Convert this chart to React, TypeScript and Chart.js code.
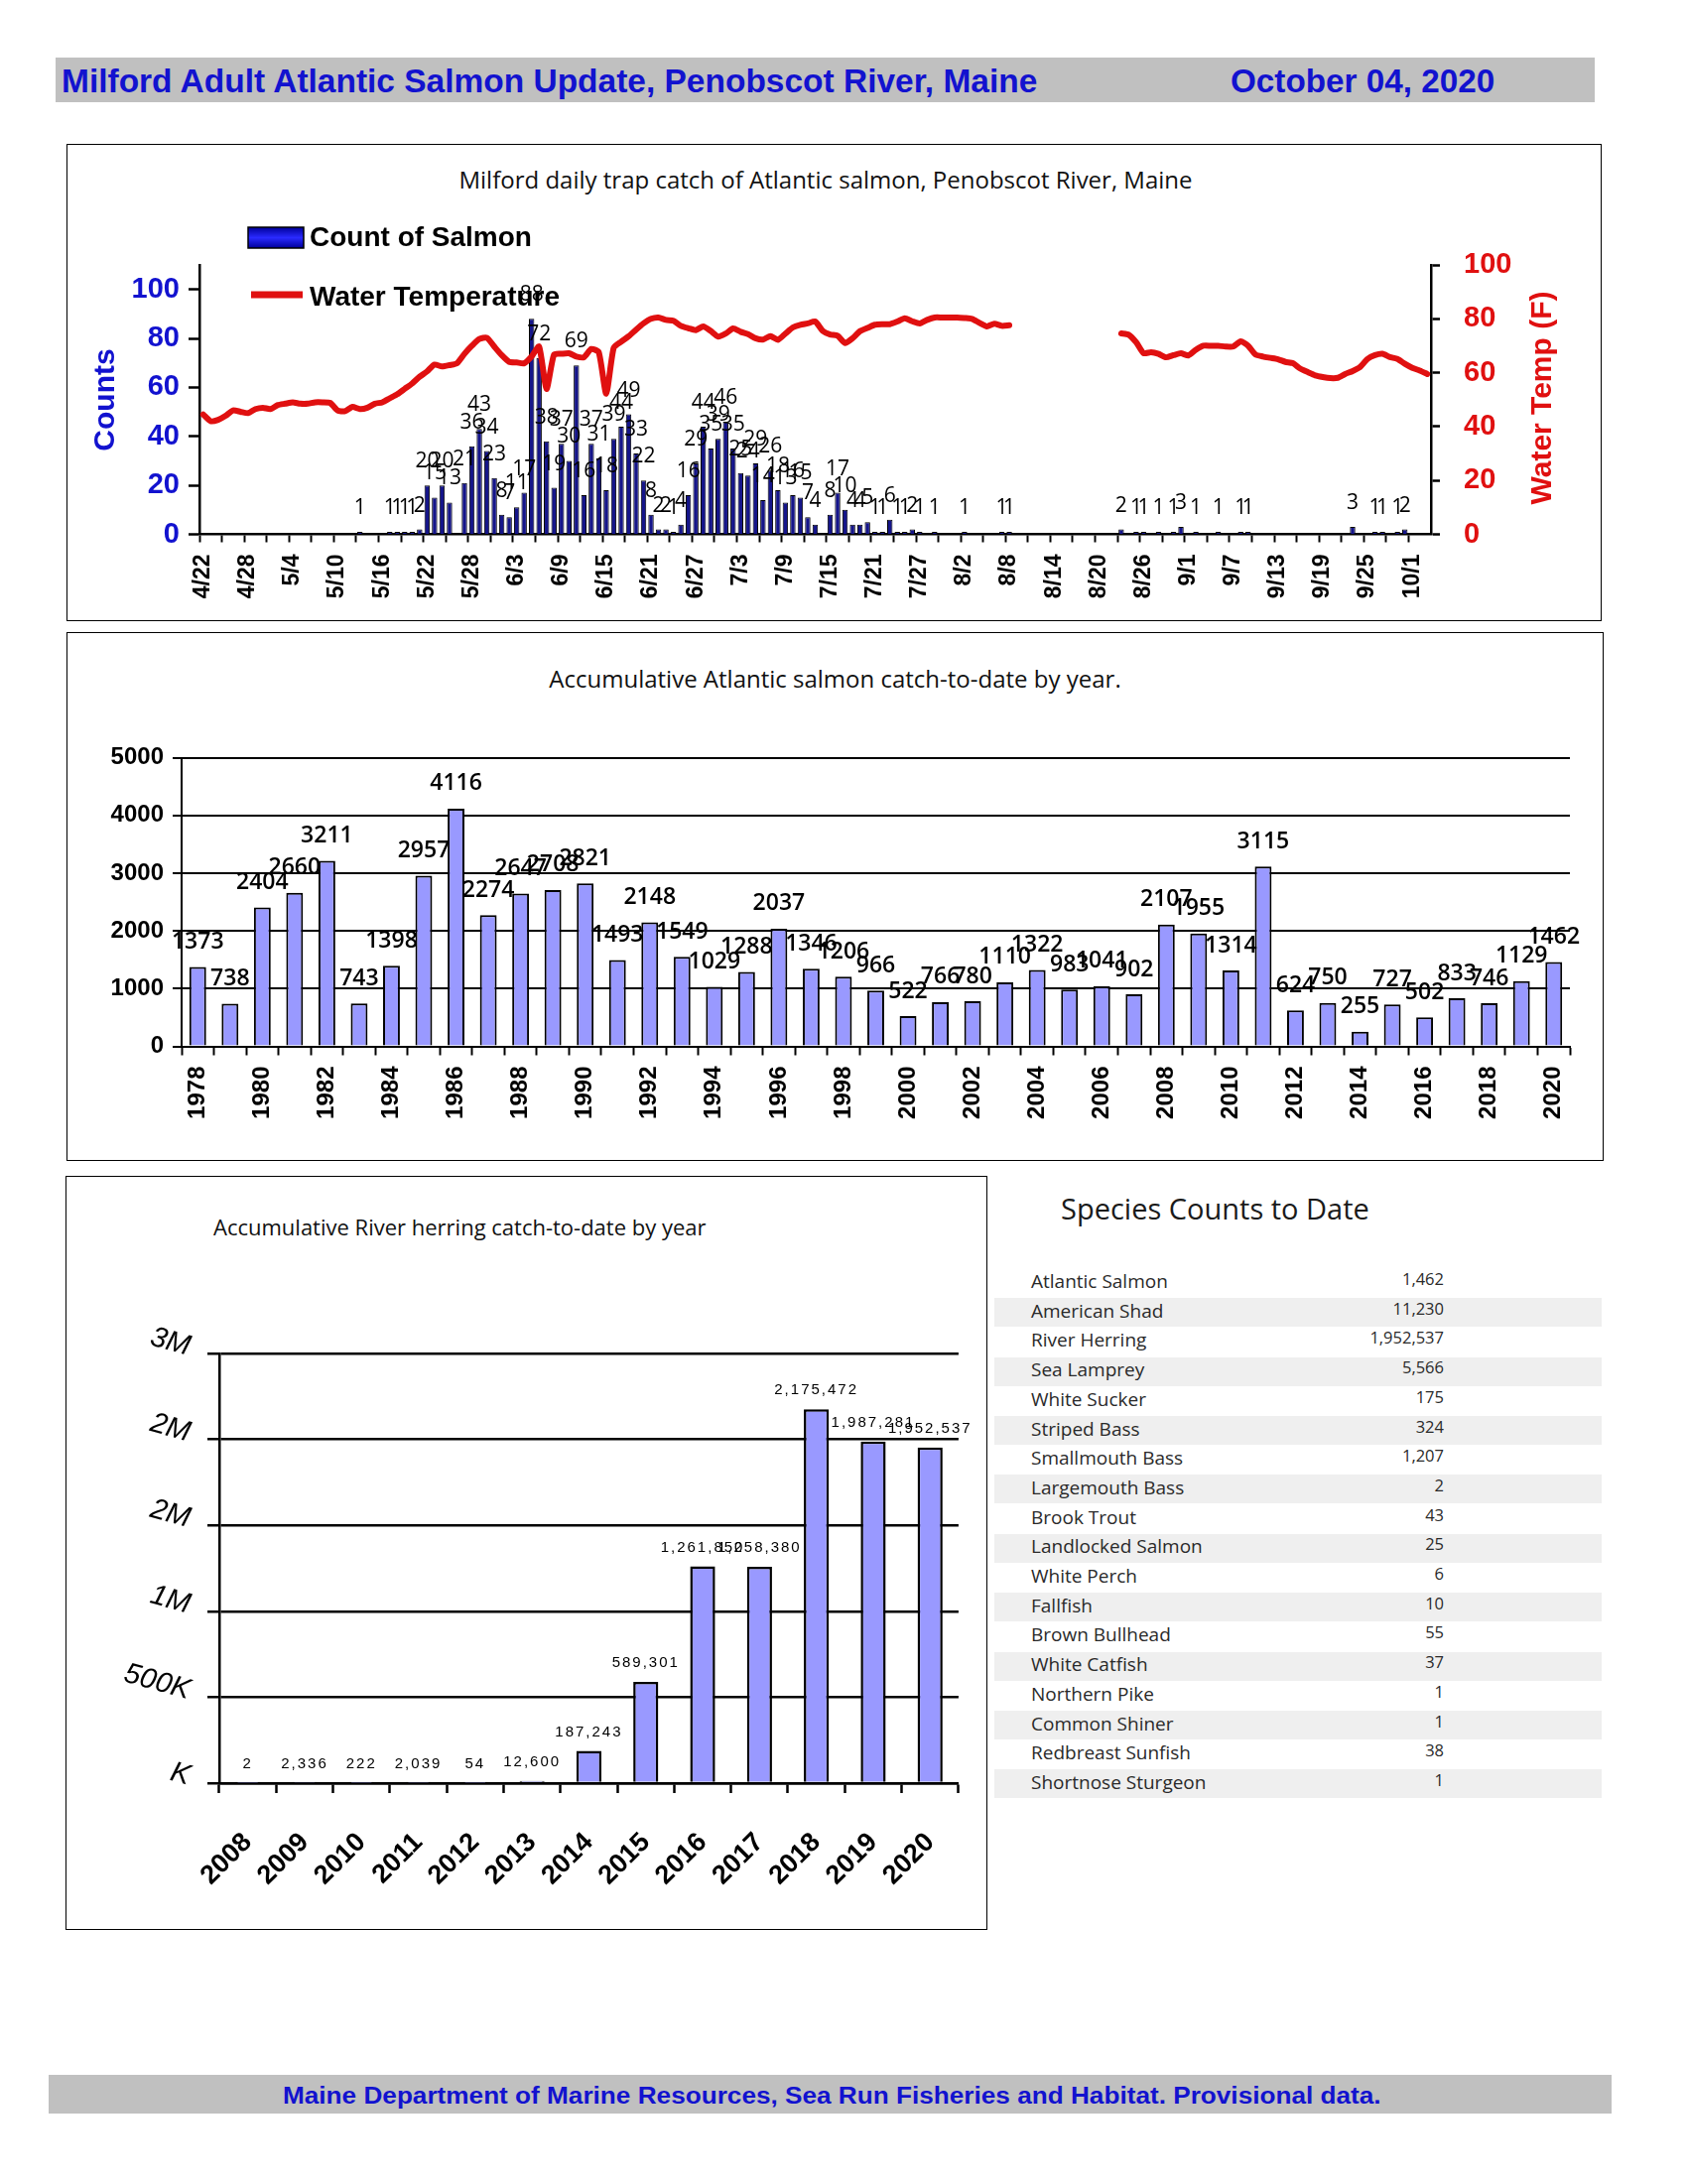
import React, { useEffect, useLayoutEffect, useRef, useState } from 'react';
import { Chart, registerables } from 'chart.js';

Chart.register(...registerables);

// ---------------- DATA ----------------
const seasonStart = { year: 2020, month: 4, day: 22 };
const seasonDays = 165;
const dayLabels: string[] = Array.from({ length: seasonDays }, (_, i) => {
  const d = new Date(seasonStart.year, seasonStart.month - 1, seasonStart.day + i);
  return `${d.getMonth() + 1}/${d.getDate()}`;
});

const dailyCounts: number[] = [
  0, 0, 0, 0, 0, 0, 0, 0, 0, 0,
  0, 0, 0, 0, 0, 0, 0, 0, 0, 0,
  0, 1, 0, 0, 0, 1, 1, 1, 1, 2,
  20, 15, 20, 13, 0, 21, 36, 43, 34, 23,
  8, 7, 11, 17, 88, 72, 38, 19, 37, 30,
  69, 16, 37, 31, 18, 39, 44, 49, 33, 22,
  8, 2, 2, 1, 4, 16, 29, 44, 35, 39,
  46, 35, 25, 24, 29, 14, 26, 18, 13, 16,
  15, 7, 4, 0, 8, 17, 10, 4, 4, 5,
  1, 1, 6, 1, 1, 2, 1, 0, 1, 0,
  0, 0, 1, 0, 0, 0, 0, 1, 1, 0,
  0, 0, 0, 0, 0, 0, 0, 0, 0, 0,
  0, 0, 0, 2, 0, 1, 1, 0, 1, 0,
  1, 3, 0, 1, 0, 0, 1, 0, 0, 1,
  1, 0, 0, 0, 0, 0, 0, 0, 0, 0,
  0, 0, 0, 0, 3, 0, 0, 1, 1, 0,
  1, 2, 0, 0, 0,
];

const dailyTempF: (number | null)[] = [
  44.5, 42, 42.5, 44, 46, 45.5, 45, 46.5, 47, 46.5,
  48, 48.5, 49, 48.5, 48.5, 49, 49, 48.8, 46, 45.7,
  47.3, 46.5, 47, 48.5, 49, 50.5, 52, 54, 56, 58.5,
  60.5, 63, 62.3, 62.8, 63.5, 67, 70, 72.5, 73, 69.7,
  66.5, 64, 63.8, 63.5, 66, 69.7, 54, 66.7, 67, 67.2,
  66, 65.7, 68.8, 67.6, 52.2, 69.2, 71.5, 73.5, 76, 78.3,
  80, 80.5, 79.6, 79.3, 77.4, 76.5, 75.8, 77.2, 75.5, 73.4,
  74.5, 76.4, 75.2, 74.3, 72.8, 72.3, 73.6, 72.2, 74.5, 76.8,
  77.8, 78.3, 79, 75.5, 74.2, 73.7, 71, 72.8, 75.4, 76.6,
  77.8, 78, 78, 79, 80.2, 79.1, 78.3, 79.6, 80.5, 80.5,
  80.5, 80.5, 80.3, 80, 78.5, 77.2, 78.2, 77.4, 77.6, null,
  null, null, null, null, null, null, null, null, null, null,
  null, null, null, 74.6, 74.1, 71.3, 67.2, 67.6, 67, 65.7,
  66.5, 67.2, 66.4, 68.5, 70, 70, 70, 69.7, 69.7, 71.6,
  70, 66.7, 66, 65.5, 65, 64, 63.5, 61.5, 60.2, 59,
  58.4, 58, 58.1, 59.5, 60.6, 62.1, 65.1, 66.5, 67, 65.8,
  65.1, 63.3, 61.8, 60.8, 59.5,
];

const salmonYears: string[] = [
  '1978', '1979', '1980', '1981', '1982', '1983', '1984', '1985', '1986', '1987',
  '1988', '1989', '1990', '1991', '1992', '1993', '1994', '1995', '1996', '1997',
  '1998', '1999', '2000', '2001', '2002', '2003', '2004', '2005', '2006', '2007',
  '2008', '2009', '2010', '2011', '2012', '2013', '2014', '2015', '2016', '2017',
  '2018', '2019', '2020',
];
const salmonTotals: number[] = [
  1373, 738, 2404, 2660, 3211, 743, 1398, 2957, 4116, 2274,
  2647, 2708, 2821, 1493, 2148, 1549, 1029, 1288, 2037, 1346,
  1206, 966, 522, 766, 780, 1110, 1322, 983, 1041, 902,
  2107, 1955, 1314, 3115, 624, 750, 255, 727, 502, 833,
  746, 1129, 1462,
];

const herringYears: string[] = ['2008', '2009', '2010', '2011', '2012', '2013', '2014', '2015', '2016', '2017', '2018', '2019', '2020'];
const herringTotals: number[] = [2, 2336, 222, 2039, 54, 12600, 187243, 589301, 1261850, 1258380, 2175472, 1987281, 1952537];
const herringTickValues: number[] = [0, 500000, 1000000, 1500000, 2000000, 2500000];
const herringTickLabels: string[] = ['K', '500K', '1M', '2M', '2M', '3M'];

const speciesNames: string[] = [
  'Atlantic Salmon', 'American Shad', 'River Herring', 'Sea Lamprey', 'White Sucker', 'Striped Bass',
  'Smallmouth Bass', 'Largemouth Bass', 'Brook Trout', 'Landlocked Salmon', 'White Perch', 'Fallfish',
  'Brown Bullhead', 'White Catfish', 'Northern Pike', 'Common Shiner', 'Redbreast Sunfish', 'Shortnose Sturgeon',
];
const speciesCounts: string[] = [
  '1,462', '11,230', '1,952,537', '5,566', '175', '324', '1,207', '2', '43', '25', '6', '10', '55', '37', '1', '1', '38', '1',
];

// ---------------- STYLE ----------------
const ARIAL = "'Liberation Sans', Arial, sans-serif";
const CAL = "'Open Sans', 'Noto Sans', sans-serif";
const BLUE = '#1212cf';
const RED = '#e01010';

function FitText({ text, width, style }: { text: string; width: number; style: React.CSSProperties }) {
  const ref = useRef<HTMLSpanElement>(null);
  const [sx, setSx] = useState(1);
  useLayoutEffect(() => {
    const el = ref.current;
    if (el && el.offsetWidth > 0) setSx(width / el.offsetWidth);
  }, [text, width]);
  return (
    <span
      ref={ref}
      style={{ ...style, display: 'inline-block', whiteSpace: 'nowrap', transform: `scaleX(${sx})`, transformOrigin: 'left center' }}
    >
      {text}
    </span>
  );
}

function useChart(ref: React.RefObject<HTMLCanvasElement>, make: () => any) {
  useEffect(() => {
    if (!ref.current) return;
    const c = new Chart(ref.current, make());
    return () => c.destroy();
  }, []);
}

function labelPlugin(id: string, dsIndex: number, offset: number, font: string, fmt: (v: number) => string, spacing?: string) {
  return {
    id,
    afterDatasetsDraw(chart: any) {
      const meta = chart.getDatasetMeta(dsIndex);
      const data = chart.data.datasets[dsIndex].data;
      const ctx = chart.ctx;
      ctx.save();
      ctx.font = font;
      ctx.fillStyle = '#000';
      ctx.textAlign = 'center';
      ctx.textBaseline = 'middle';
      if (spacing) (ctx as any).letterSpacing = spacing;
      meta.data.forEach((el: any, i: number) => {
        const v = data[i];
        if (v == null || v === 0) return;
        ctx.fillText(fmt(v), el.x, el.y - offset);
      });
      ctx.restore();
    },
  };
}

function DailyChart() {
  const ref = useRef<HTMLCanvasElement>(null);
  useChart(ref, () => ({
    type: 'bar',
    data: {
      labels: dayLabels,
      datasets: [
        {
          type: 'line', label: 'Water Temperature', data: dailyTempF, yAxisID: 'y1',
          borderColor: RED, borderWidth: 6, pointRadius: 0, tension: 0.2, spanGaps: false,
          borderJoinStyle: 'round', borderCapStyle: 'round', order: 0,
        },
        {
          type: 'bar', label: 'Count of Salmon', data: dailyCounts, yAxisID: 'y',
          backgroundColor: '#15158a', borderColor: '#000', borderWidth: 1,
          barPercentage: 0.72, categoryPercentage: 1, order: 1,
        },
      ],
    },
    options: {
      responsive: false, animation: false,
      layout: { padding: { top: 122, left: 0, right: 0, bottom: 0 } },
      plugins: { legend: { display: false }, tooltip: { enabled: false } },
      scales: {
        x: {
          offset: true,
          grid: {
            offset: true, drawOnChartArea: false, tickLength: 8, tickWidth: 2,
            tickColor: (c: any) => (c.index % 3 === 0 ? '#000' : 'rgba(0,0,0,0)'),
          },
          border: { color: '#000', width: 2.5 },
          ticks: {
            autoSkip: false, minRotation: 90, maxRotation: 90, padding: 12, color: '#000',
            font: { family: ARIAL, weight: 'bold', size: 23 },
            callback: (_v: any, i: number) => (i % 6 === 0 ? dayLabels[i] : ''),
          },
          afterFit: (s: any) => { s.height = 87.5; },
        },
        y: {
          position: 'left', min: 0, max: 110,
          ticks: { stepSize: 20, includeBounds: false, color: BLUE, padding: 9, font: { family: ARIAL, weight: 'bold', size: 29 } },
          afterBuildTicks: (s: any) => { s.ticks = s.ticks.filter((t: any) => t.value <= 100); },
          grid: { drawOnChartArea: false, tickLength: 11, tickWidth: 2.5, tickColor: '#000' },
          border: { color: '#000', width: 2.5 },
          afterFit: (s: any) => { s.width = 134; },
        },
        y1: {
          position: 'right', min: 0, max: 100,
          ticks: { stepSize: 20, color: RED, padding: 24, font: { family: ARIAL, weight: 'bold', size: 29 } },
          grid: { drawOnChartArea: false, tickLength: 9, tickWidth: 2.5, tickColor: '#000' },
          border: { color: '#000', width: 2.5 },
          afterFit: (s: any) => { s.width = 172; },
        },
      },
    },
    plugins: [
      {
        id: 'legendAndTitles',
        beforeDatasetsDraw(chart: any) {
          const ctx = chart.ctx;
          ctx.save();
          const g = ctx.createLinearGradient(0, 84, 0, 105);
          g.addColorStop(0, '#00009a');
          g.addColorStop(0.5, '#2a2aff');
          g.addColorStop(1, '#00009a');
          ctx.fillStyle = g;
          ctx.fillRect(183, 84, 56, 21);
          ctx.strokeStyle = '#000';
          ctx.lineWidth = 1.5;
          ctx.strokeRect(183, 84, 56, 21);
          ctx.strokeStyle = RED;
          ctx.lineWidth = 7;
          ctx.beginPath();
          ctx.moveTo(186, 152);
          ctx.lineTo(238, 152);
          ctx.stroke();
          ctx.fillStyle = '#000';
          ctx.font = `bold 28px ${ARIAL}`;
          ctx.textBaseline = 'middle';
          ctx.textAlign = 'left';
          ctx.fillText('Count of Salmon', 245, 95);
          ctx.fillText('Water Temperature', 245, 155);
          ctx.font = `bold 30px ${ARIAL}`;
          ctx.textAlign = 'center';
          ctx.fillStyle = BLUE;
          ctx.translate(40, 258);
          ctx.rotate(-Math.PI / 2);
          ctx.fillText('Counts', 0, 0);
          ctx.restore();
          ctx.save();
          ctx.font = `bold 30px ${ARIAL}`;
          ctx.textAlign = 'center';
          ctx.textBaseline = 'middle';
          ctx.fillStyle = RED;
          ctx.translate(1488, 256);
          ctx.rotate(-Math.PI / 2);
          ctx.fillText('Water Temp (F)', 0, 0);
          ctx.restore();
        },
      },
      labelPlugin('dailyLabels', 1, 24, `21px ${CAL}`, (v) => String(v)),
    ],
  }));
  return <canvas ref={ref} width={1547} height={481} style={{ position: 'absolute', left: 67, top: 145, width: 1547, height: 481 }} />;
}

function SalmonYearChart() {
  const ref = useRef<HTMLCanvasElement>(null);
  useChart(ref, () => ({
    type: 'bar',
    data: {
      labels: salmonYears,
      datasets: [{
        data: salmonTotals, backgroundColor: '#9999ff', borderColor: '#000', borderWidth: 2,
        barPercentage: 0.52, categoryPercentage: 1,
      }],
    },
    options: {
      responsive: false, animation: false,
      layout: { padding: { top: 126.5, left: 0, right: 34, bottom: 0 } },
      plugins: { legend: { display: false }, tooltip: { enabled: false } },
      scales: {
        x: {
          offset: true,
          grid: { offset: true, drawOnChartArea: false, tickLength: 9, tickWidth: 2, tickColor: '#000' },
          border: { color: '#000', width: 2 },
          ticks: {
            autoSkip: false, minRotation: 90, maxRotation: 90, padding: 11, color: '#000',
            font: { family: ARIAL, weight: 'bold', size: 24 },
            callback: (_v: any, i: number) => (i % 2 === 0 ? salmonYears[i] : ''),
          },
          afterFit: (s: any) => { s.height = 115.5; },
        },
        y: {
          min: 0, max: 5000,
          ticks: {
            stepSize: 1000, color: '#000', padding: 9, font: { family: ARIAL, weight: 'bold', size: 24 },
            callback: (v: any) => String(v),
          },
          grid: { color: '#000', lineWidth: 2, tickLength: 9, tickColor: '#000' },
          border: { color: '#000', width: 2 },
          afterFit: (s: any) => { s.width = 116; },
        },
      },
    },
    plugins: [labelPlugin('salmonLabels', 0, 25, `600 23px ${CAL}`, (v) => String(v))],
  }));
  return <canvas ref={ref} width={1549} height={533} style={{ position: 'absolute', left: 67, top: 637, width: 1549, height: 533 }} />;
}

function HerringChart() {
  const ref = useRef<HTMLCanvasElement>(null);
  useChart(ref, () => ({
    type: 'bar',
    data: {
      labels: herringYears,
      datasets: [{
        data: herringTotals, backgroundColor: '#9999ff', borderColor: '#000', borderWidth: 2.5,
        barPercentage: 0.44, categoryPercentage: 1,
      }],
    },
    options: {
      responsive: false, animation: false,
      layout: { padding: { top: 179, left: 0, right: 22, bottom: 0 } },
      plugins: { legend: { display: false }, tooltip: { enabled: false } },
      scales: {
        x: {
          offset: true,
          grid: { offset: true, drawOnChartArea: false, tickLength: 10, tickWidth: 2.5, tickColor: '#000' },
          border: { color: '#000', width: 2.5 },
          ticks: {
            autoSkip: false, minRotation: 45, maxRotation: 45, padding: 34, color: '#000',
            font: { family: ARIAL, weight: 'bold', size: 27 },
          },
          afterFit: (s: any) => { s.height = 148; },
        },
        y: {
          min: 0, max: 2500000,
          ticks: { stepSize: 500000, display: false },
          grid: { color: '#000', lineWidth: 2.5, tickLength: 12, tickColor: '#000' },
          border: { color: '#000', width: 2.5 },
          afterFit: (s: any) => { s.width = 155; },
        },
      },
    },
    plugins: [
      labelPlugin('herringLabels', 0, 19, `15px ${ARIAL}`, (v) => v.toLocaleString('en-US'), '2px'),
      {
        id: 'herringTicks',
        afterDraw(chart: any) {
          const ctx = chart.ctx;
          const ys = chart.scales.y;
          ctx.save();
          ctx.font = `italic 29px ${ARIAL}`;
          ctx.fillStyle = '#000';
          ctx.textAlign = 'right';
          ctx.textBaseline = 'middle';
          herringTickValues.forEach((v, i) => {
            const y = ys.getPixelForValue(v);
            ctx.save();
            ctx.translate(chart.chartArea.left - 30, y - 6);
            ctx.rotate(0.27);
            ctx.fillText(herringTickLabels[i], 0, 0);
            ctx.restore();
          });
          ctx.restore();
        },
      },
    ],
  }));
  return <canvas ref={ref} width={929} height={760} style={{ position: 'absolute', left: 66, top: 1185, width: 929, height: 760 }} />;
}

const abs = (l: number, t: number, w?: number, h?: number): React.CSSProperties => ({ position: 'absolute', left: l, top: t, width: w, height: h });

export default function App() {
  return (
    <div style={{ ...abs(0, 0, 1701, 2201), background: '#fff', overflow: 'hidden' }}>
      {/* header */}
      <div style={{ ...abs(56, 58, 1551, 45), background: '#c0c0c0' }} />
      <div style={{ ...abs(62, 58, undefined, 45), lineHeight: '45px' }}>
        <FitText text="Milford Adult Atlantic Salmon Update, Penobscot River, Maine" width={983}
          style={{ font: `bold 33px 'Liberation Sans Narrow', ${ARIAL}`, color: BLUE, verticalAlign: 'middle' }} />
      </div>
      <div style={{ ...abs(1240, 58, undefined, 45), lineHeight: '45px' }}>
        <FitText text="October 04, 2020" width={266}
          style={{ font: `bold 33px 'Liberation Sans Narrow', ${ARIAL}`, color: BLUE, verticalAlign: 'middle' }} />
      </div>

      {/* chart 1 */}
      <div style={{ ...abs(67, 145, 1547, 481), border: '1px solid #000', boxSizing: 'border-box' }} />
      <div style={{ ...abs(67, 164, 1530, 32), lineHeight: '32px', textAlign: 'center', font: `500 24px ${CAL}`, color: '#111' }}>
        Milford daily trap catch of Atlantic salmon, Penobscot River, Maine
      </div>
      <DailyChart />

      {/* chart 2 */}
      <div style={{ ...abs(67, 637, 1549, 533), border: '1px solid #000', boxSizing: 'border-box' }} />
      <div style={{ ...abs(67, 667, 1549, 32), lineHeight: '32px', textAlign: 'center', font: `500 24px ${CAL}`, color: '#111' }}>
        Accumulative Atlantic salmon catch-to-date by year.
      </div>
      <SalmonYearChart />

      {/* chart 3 */}
      <div style={{ ...abs(66, 1185, 929, 760), border: '1px solid #000', boxSizing: 'border-box' }} />
      <div style={{ ...abs(215, 1221, 750, 32), lineHeight: '32px', font: `500 22px ${CAL}`, color: '#111', whiteSpace: 'nowrap' }}>
        Accumulative River herring catch-to-date by year
      </div>
      <HerringChart />

      {/* species table */}
      <div style={{ ...abs(1069, 1198, 560, 40), lineHeight: '40px', font: `29px ${CAL}`, color: '#1a1a1a', whiteSpace: 'nowrap' }}>
        Species Counts to Date
      </div>
      {speciesNames.map((name, k) => {
        const cy = 1293 + k * 29.7;
        return (
          <React.Fragment key={name}>
            {k % 2 === 1 && <div style={{ ...abs(1002, cy - 14.5, 612, 29), background: '#efefef' }} />}
            <div style={{ ...abs(1039, cy - 15, 380, 30), lineHeight: '30px', font: `19px ${CAL}`, color: '#2a2a2a', whiteSpace: 'nowrap' }}>{name}</div>
            <div style={{ ...abs(1255, cy - 16, 200, 30), lineHeight: '30px', font: `16.5px ${CAL}`, color: '#2a2a2a', textAlign: 'right' }}>{speciesCounts[k]}</div>
          </React.Fragment>
        );
      })}

      {/* footer */}
      <div style={{ ...abs(49, 2091, 1575, 39), background: '#c0c0c0' }} />
      <div style={{ ...abs(285, 2091, undefined, 39), lineHeight: '39px' }}>
        <FitText text="Maine Department of Marine Resources, Sea Run Fisheries and Habitat. Provisional data." width={1107}
          style={{ font: `bold 23px ${ARIAL}`, color: BLUE, verticalAlign: 'middle' }} />
      </div>
    </div>
  );
}
